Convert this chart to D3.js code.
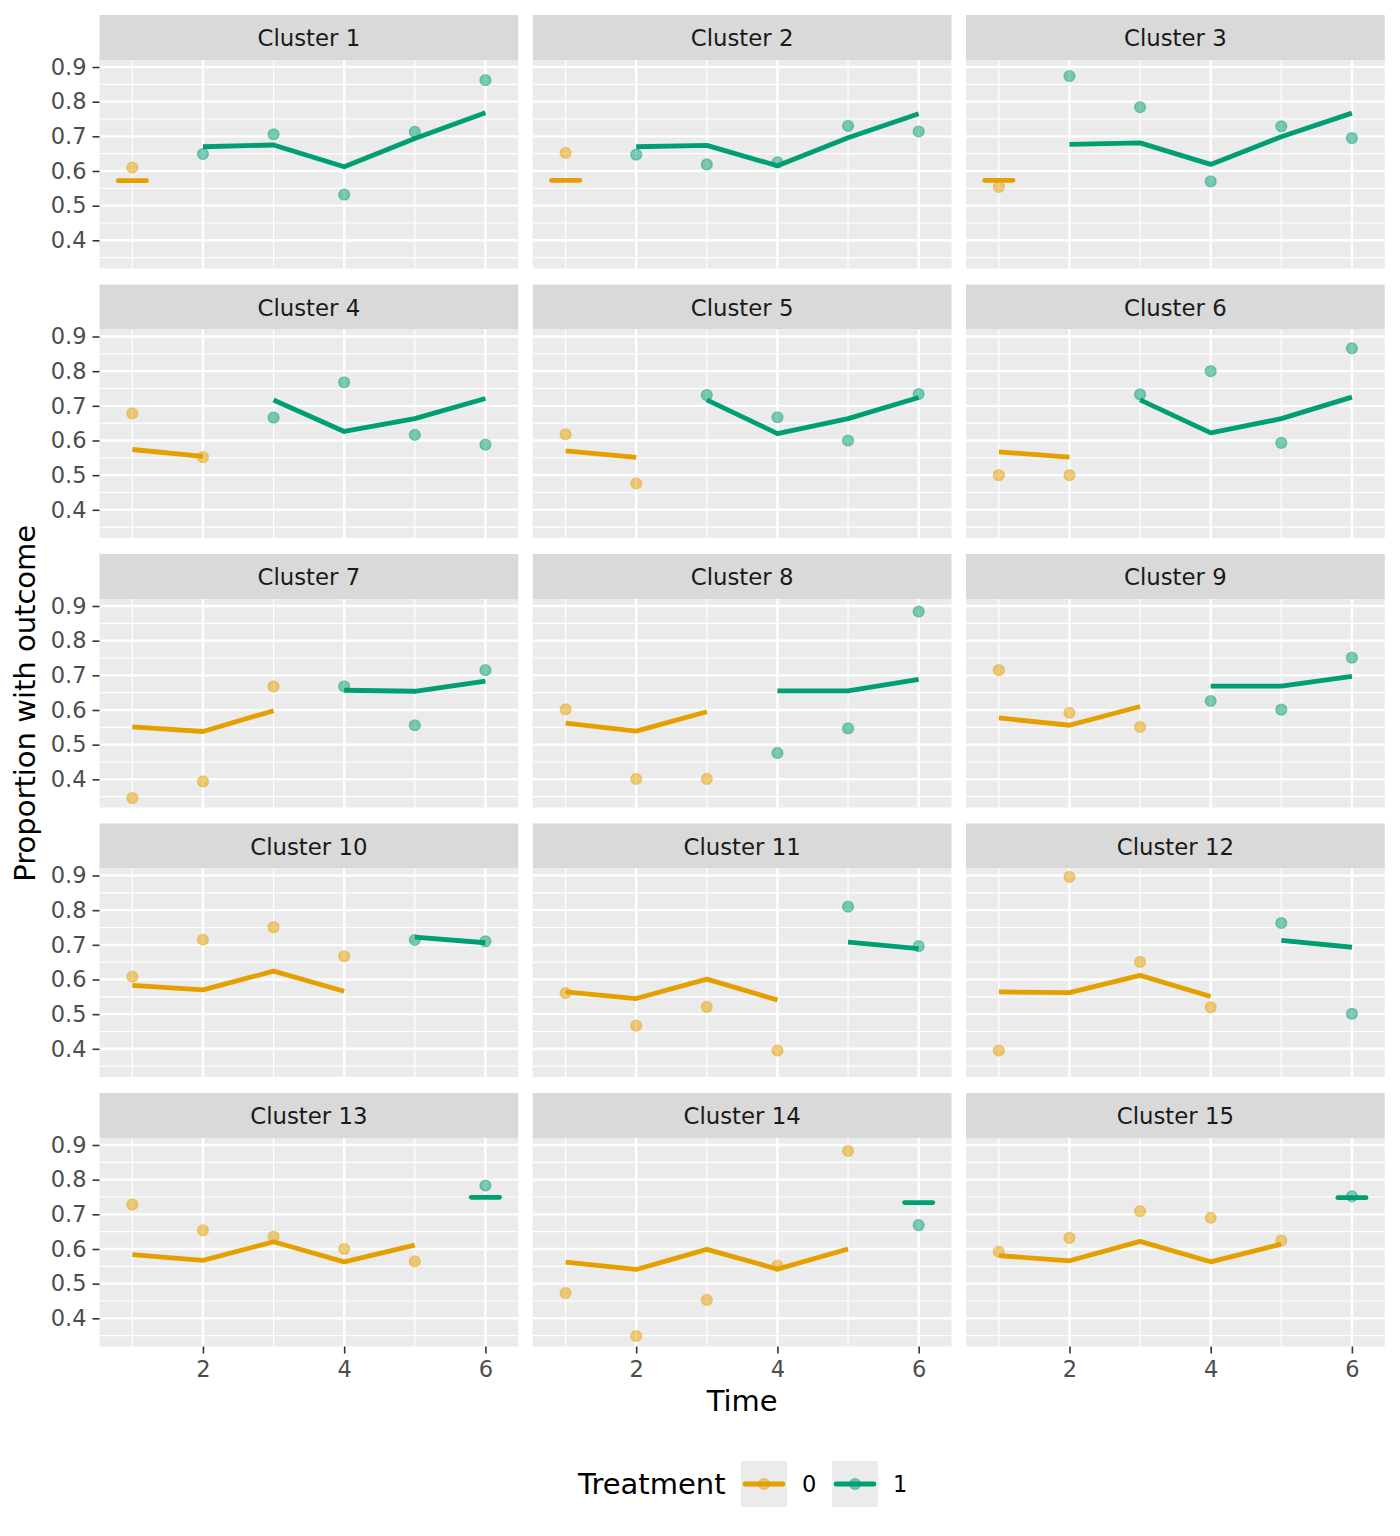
<!DOCTYPE html>
<html>
<head>
<meta charset="utf-8">
<script src="https://cdn.jsdelivr.net/npm/d3@7"></script>
<style>
  body { margin: 0; background: #ffffff; }
  text { font-family: "DejaVu Sans", sans-serif; }
</style>
</head>
<body>
<div id="chart"></div>
<script>
// values
var clusterNames = ["Cluster 1", "Cluster 2", "Cluster 3", "Cluster 4", "Cluster 5",
  "Cluster 6", "Cluster 7", "Cluster 8", "Cluster 9", "Cluster 10", "Cluster 11",
  "Cluster 12", "Cluster 13", "Cluster 14", "Cluster 15"];
var times = [1, 2, 3, 4, 5, 6];
// first period under treatment for each cluster
var treatStart = [2, 2, 2, 3, 3, 3, 4, 4, 4, 5, 5, 5, 6, 6, 6];

var observed = [
  [0.610, 0.649, 0.706, 0.532, 0.713, 0.862],
  [0.652, 0.647, 0.619, 0.625, 0.730, 0.714],
  [0.554, 0.874, 0.784, 0.570, 0.729, 0.695],
  [0.678, 0.552, 0.666, 0.768, 0.616, 0.588],
  [0.618, 0.476, 0.731, 0.667, 0.600, 0.734],
  [0.500, 0.500, 0.733, 0.800, 0.593, 0.866],
  [0.346, 0.394, 0.668, 0.668, 0.556, 0.715],
  [0.602, 0.401, 0.401, 0.476, 0.547, 0.884],
  [0.715, 0.592, 0.551, 0.626, 0.601, 0.751],
  [0.608, 0.715, 0.751, 0.667, 0.714, 0.710],
  [0.561, 0.467, 0.521, 0.395, 0.810, 0.696],
  [0.395, 0.896, 0.651, 0.520, 0.763, 0.501],
  [0.728, 0.654, 0.636, 0.600, 0.564, 0.783],
  [0.473, 0.349, 0.453, 0.552, 0.883, 0.669],
  [0.592, 0.632, 0.709, 0.690, 0.624, 0.752]
];

var fitted = [
  [0.572, 0.670, 0.675, 0.612, 0.694, 0.768],
  [0.573, 0.670, 0.674, 0.615, 0.696, 0.765],
  [0.573, 0.677, 0.681, 0.619, 0.699, 0.767],
  [0.574, 0.554, 0.717, 0.626, 0.663, 0.721],
  [0.570, 0.551, 0.717, 0.620, 0.663, 0.724],
  [0.567, 0.552, 0.717, 0.622, 0.663, 0.725],
  [0.551, 0.538, 0.598, 0.657, 0.654, 0.683],
  [0.562, 0.539, 0.595, 0.655, 0.655, 0.688],
  [0.577, 0.556, 0.610, 0.669, 0.669, 0.697],
  [0.583, 0.570, 0.624, 0.566, 0.722, 0.706],
  [0.564, 0.545, 0.601, 0.541, 0.708, 0.689],
  [0.564, 0.562, 0.612, 0.551, 0.713, 0.693],
  [0.584, 0.567, 0.621, 0.563, 0.611, 0.749],
  [0.562, 0.541, 0.599, 0.542, 0.600, 0.734],
  [0.581, 0.566, 0.622, 0.563, 0.614, 0.748]
];

var treatLevels = ["0", "1"];
var treatColors = ["#E69F00", "#009E73"];
var yMajor = [0.4, 0.5, 0.6, 0.7, 0.8, 0.9];
var yMinor = [0.35, 0.45, 0.55, 0.65, 0.75, 0.85];
var xMajor = [2, 4, 6];
var xMinor = [1, 3, 5];

var w = 1400, h = 1536;
var nCols = 3, nRows = 5;
var left0 = 99.5, colStep = 433.25, panelW = 418.75;
var top0 = 15, rowStep = 269.5, stripH = 45, panelH = 208.5;
var lineW = 4.8, ptR = 5.5;

var svg = d3.select("#chart").append("svg")
  .attr("width", w)
  .attr("height", h);

var x = d3.scaleLinear().domain([0.535, 6.465]).range([0, panelW]);
var y = d3.scaleLinear().domain([0.3187, 0.9202]).range([panelH, 0]);

var line = d3.line()
  .x(function(d) { return x(d.t); })
  .y(function(d) { return y(d.v); });

clusterNames.forEach(function(name, i) {
  var col = i % nCols, row = Math.floor(i / nCols);
  var px = left0 + col * colStep;
  var sy = top0 + row * rowStep;
  var py = sy + stripH;

  // strip
  svg.append("rect")
    .attr("x", px).attr("y", sy)
    .attr("width", panelW).attr("height", stripH)
    .attr("fill", "#D9D9D9");
  svg.append("text")
    .attr("x", px + panelW / 2).attr("y", sy + 31)
    .attr("text-anchor", "middle")
    .attr("font-size", 22.8)
    .attr("fill", "#1A1A1A")
    .text(name);

  var g = svg.append("g").attr("transform", "translate(" + px + "," + py + ")");
  g.append("rect").attr("width", panelW).attr("height", panelH).attr("fill", "#EBEBEB");

  // grid
  g.selectAll(".yminor").data(yMinor).enter().append("line")
    .attr("x1", 0).attr("x2", panelW)
    .attr("y1", function(d) { return y(d); }).attr("y2", function(d) { return y(d); })
    .attr("stroke", "#fff").attr("stroke-width", 1.2);
  g.selectAll(".xminor").data(xMinor).enter().append("line")
    .attr("y1", 0).attr("y2", panelH)
    .attr("x1", function(d) { return x(d); }).attr("x2", function(d) { return x(d); })
    .attr("stroke", "#fff").attr("stroke-width", 1.2);
  g.selectAll(".ymajor").data(yMajor).enter().append("line")
    .attr("x1", 0).attr("x2", panelW)
    .attr("y1", function(d) { return y(d); }).attr("y2", function(d) { return y(d); })
    .attr("stroke", "#fff").attr("stroke-width", 2.4);
  g.selectAll(".xmajor").data(xMajor).enter().append("line")
    .attr("y1", 0).attr("y2", panelH)
    .attr("x1", function(d) { return x(d); }).attr("x2", function(d) { return x(d); })
    .attr("stroke", "#fff").attr("stroke-width", 2.4);

  // fitted lines, one per treatment group
  [0, 1].forEach(function(k) {
    var pts = times.map(function(t, j) {
      return { t: t, v: fitted[i][j], k: t >= treatStart[i] ? 1 : 0 };
    }).filter(function(d) { return d.k === k; });
    if (pts.length === 0) return;
    if (pts.length === 1) {
      g.append("line")
        .attr("x1", x(pts[0].t - 0.2)).attr("x2", x(pts[0].t + 0.2))
        .attr("y1", y(pts[0].v)).attr("y2", y(pts[0].v))
        .attr("stroke", treatColors[k]).attr("stroke-width", lineW)
        .attr("stroke-linecap", "round");
    } else {
      g.append("path")
        .datum(pts)
        .attr("d", line)
        .attr("fill", "none")
        .attr("stroke", treatColors[k])
        .attr("stroke-width", lineW)
        .attr("stroke-linejoin", "round");
    }
  });

  // observed points
  g.selectAll(".pt").data(times).enter().append("circle")
    .attr("cx", function(t) { return x(t); })
    .attr("cy", function(t, j) { return y(observed[i][j]); })
    .attr("r", ptR)
    .attr("fill", function(t) { return treatColors[t >= treatStart[i] ? 1 : 0]; })
    .attr("fill-opacity", 0.5)
    .attr("stroke", function(t) { return treatColors[t >= treatStart[i] ? 1 : 0]; })
    .attr("stroke-opacity", 0.45)
    .attr("stroke-width", 1.2);

  // y axis on left column
  if (col === 0) {
    var ya = g.append("g").call(d3.axisLeft(y).tickValues(yMajor).tickSize(7).tickPadding(6)
      .tickFormat(d3.format(".1f")));
    ya.select(".domain").remove();
    ya.selectAll("line").attr("stroke", "#333333").attr("stroke-width", 1.6);
    ya.selectAll("text").attr("font-size", 22.5).attr("fill", "#4D4D4D")
      .attr("font-family", "DejaVu Sans");
  }
  // x axis on bottom row
  if (row === nRows - 1) {
    var xa = g.append("g").attr("transform", "translate(0," + panelH + ")")
      .call(d3.axisBottom(x).tickValues(xMajor).tickSize(7).tickPadding(8)
        .tickFormat(d3.format("d")));
    xa.select(".domain").remove();
    xa.selectAll("line").attr("stroke", "#333333").attr("stroke-width", 1.6);
    xa.selectAll("text").attr("font-size", 22.5).attr("fill", "#4D4D4D")
      .attr("font-family", "DejaVu Sans");
  }
});

// axis titles
svg.append("text")
  .attr("x", (left0 + left0 + 2 * colStep + panelW) / 2)
  .attr("y", 1411)
  .attr("text-anchor", "middle")
  .attr("font-size", 29)
  .attr("fill", "#000")
  .text("Time");

svg.append("text")
  .attr("transform", "translate(35," + ((top0 + stripH + top0 + 4 * rowStep + stripH + panelH) / 2) + ") rotate(-90)")
  .attr("text-anchor", "middle")
  .attr("font-size", 29)
  .attr("fill", "#000")
  .text("Proportion with outcome");

// legend
var legend = svg.append("g");
legend.append("text")
  .attr("x", 578).attr("y", 1494)
  .attr("font-size", 29).attr("fill", "#000")
  .text("Treatment");

var keyX = [741, 832];
treatLevels.forEach(function(lv, k) {
  var kx = keyX[k], ky = 1461, ks = 46;
  legend.append("rect")
    .attr("x", kx).attr("y", ky).attr("width", ks).attr("height", ks)
    .attr("fill", "#EBEBEB");
  legend.append("line")
    .attr("x1", kx + 4).attr("x2", kx + ks - 4)
    .attr("y1", ky + ks / 2).attr("y2", ky + ks / 2)
    .attr("stroke", treatColors[k]).attr("stroke-width", lineW)
    .attr("stroke-linecap", "round");
  legend.append("circle")
    .attr("cx", kx + ks / 2).attr("cy", ky + ks / 2).attr("r", ptR)
    .attr("fill", treatColors[k]).attr("fill-opacity", 0.5)
    .attr("stroke", treatColors[k]).attr("stroke-opacity", 0.45)
    .attr("stroke-width", 1.2);
  legend.append("text")
    .attr("x", kx + ks + 15).attr("y", 1492)
    .attr("font-size", 22.5).attr("fill", "#000")
    .text(lv);
});
</script>
</body>
</html>
